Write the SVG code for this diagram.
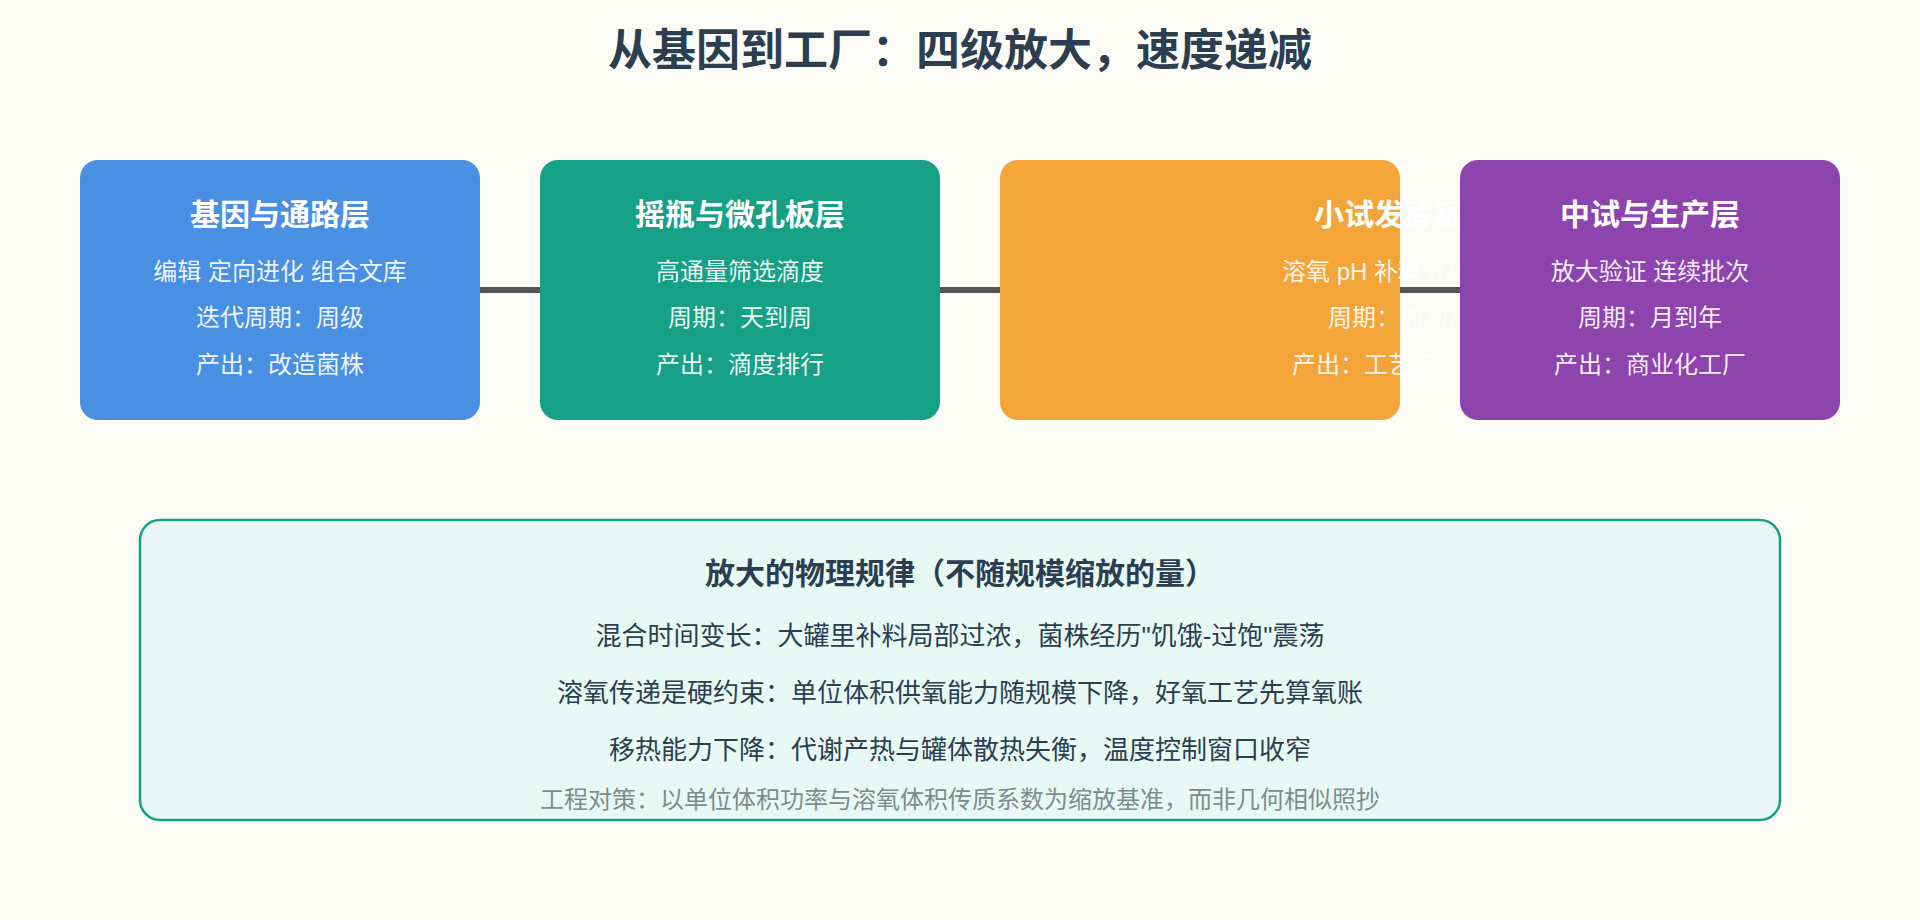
<svg xmlns="http://www.w3.org/2000/svg" width="1920" height="920" viewBox="0 0 1920 920">
<style>
text{font-family:"Liberation Sans","Noto Sans CJK SC",sans-serif;text-anchor:middle}
.main{font-size:44px;font-weight:bold;fill:#2c3e50}
.bt{font-size:30px;font-weight:bold;fill:#ffffff}
.bb{font-size:24px;fill:#ffffff;fill-opacity:0.92}
.conn{stroke:#555555;stroke-width:6;fill:none}
.pt{font-size:30px;font-weight:bold;fill:#2c3e50}
.pl{font-size:26px;fill:#2c3e50}
.pn{font-size:24px;fill:#7f8c8d}
</style>
<rect x="0" y="0" width="1920" height="920" fill="#fcfcf7"/>
<text class="main" x="960" y="66">从基因到工厂：四级放大，速度递减</text>
<g id="connectors">
<line class="conn" x1="480" y1="290" x2="540" y2="290"/>
<line class="conn" x1="940" y1="290" x2="1000" y2="290"/>
<line class="conn" x1="1400" y1="290" x2="1460" y2="290"/>
</g>
<g id="node-gene">
<rect x="80" y="160" width="400" height="260" rx="18" fill="#4a90e2"/>
<text class="bt" x="280" y="225">基因与通路层</text>
<text class="bb" x="280" y="280">编辑 定向进化 组合文库</text>
<text class="bb" x="280" y="326">迭代周期：周级</text>
<text class="bb" x="280" y="373">产出：改造菌株</text>
</g>
<g id="node-flask">
<rect x="540" y="160" width="400" height="260" rx="18" fill="#16a085"/>
<text class="bt" x="740" y="225">摇瓶与微孔板层</text>
<text class="bb" x="740" y="280">高通量筛选滴度</text>
<text class="bb" x="740" y="326">周期：天到周</text>
<text class="bb" x="740" y="373">产出：滴度排行</text>
</g>
<g id="node-bench">
<rect x="1000" y="160" width="400" height="260" rx="18" fill="#f4a53a"/>
<text class="bt" x="1404" y="225">小试发酵罐层</text>
<text class="bb" x="1400" y="280">溶氧 pH 补料分批控制</text>
<text class="bb" x="1400" y="326">周期：周到月</text>
<text class="bb" x="1400" y="373">产出：工艺参数窗口</text>
</g>
<g id="node-pilot">
<rect x="1460" y="160" width="380" height="260" rx="18" fill="#8e44ad"/>
<text class="bt" x="1650" y="225">中试与生产层</text>
<text class="bb" x="1650" y="280">放大验证 连续批次</text>
<text class="bb" x="1650" y="326">周期：月到年</text>
<text class="bb" x="1650" y="373">产出：商业化工厂</text>
</g>
<g id="panel-physics">
<rect x="140" y="520" width="1640" height="300" rx="20" ry="20" fill="#e8f8f5" stroke="#16a085" stroke-width="2.5"/>
<text class="pt" x="960" y="584">放大的物理规律（不随规模缩放的量）</text>
<text class="pl" x="960" y="645">混合时间变长：大罐里补料局部过浓，菌株经历"饥饿-过饱"震荡</text>
<text class="pl" x="960" y="702">溶氧传递是硬约束：单位体积供氧能力随规模下降，好氧工艺先算氧账</text>
<text class="pl" x="960" y="759">移热能力下降：代谢产热与罐体散热失衡，温度控制窗口收窄</text>
<text class="pn" x="960" y="808">工程对策：以单位体积功率与溶氧体积传质系数为缩放基准，而非几何相似照抄</text>
</g>
</svg>
